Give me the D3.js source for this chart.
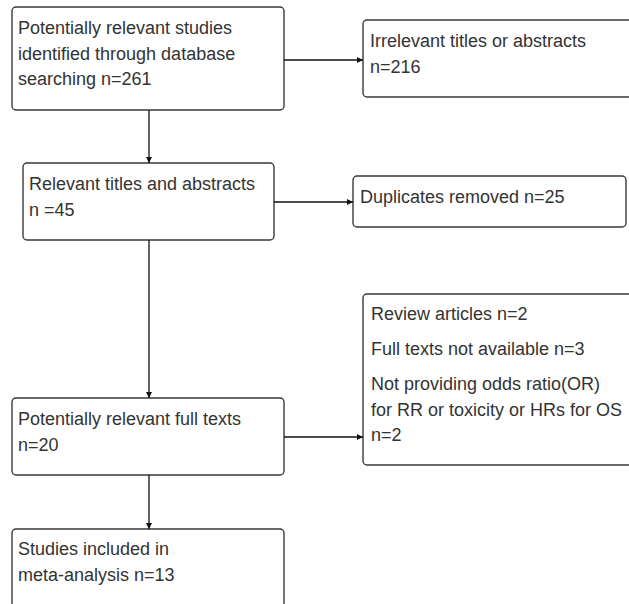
<!DOCTYPE html>
<html><head><meta charset="utf-8">
<script src="https://cdn.jsdelivr.net/npm/d3@7"></script>
<style>html,body{margin:0;padding:0;background:#fff;overflow:hidden}</style>
</head><body>
<svg id="c" width="629" height="604"></svg>
<script>
// ---- data ----
const stageLabels = ["Potentially relevant studies identified through database searching", "Relevant titles and abstracts", "Potentially relevant full texts", "Studies included in meta-analysis"];
const stageCounts = [261, 45, 20, 13];
const excludedLabels = [["Irrelevant titles or abstracts"], ["Duplicates removed"], ["Review articles", "Full texts not available", "Not providing odds ratio(OR) for RR or toxicity or HRs for OS"]];
const excludedCounts = [[216], [25], [2, 3, 2]];

// ---- layout (positions, not data) ----
const mainLines = [
  ["Potentially relevant studies", "identified through database", "searching n=" + stageCounts[0]],
  ["Relevant titles and abstracts", "n =" + stageCounts[1]],
  ["Potentially relevant full texts", "n=" + stageCounts[2]],
  ["Studies included in", "meta-analysis n=" + stageCounts[3]]
];
const mainBoxes = [
  {x0: 12, x1: 284, y0: 7, y1: 110, tx: 18, ty: 34},
  {x0: 23, x1: 274, y0: 163, y1: 240, tx: 29, ty: 190},
  {x0: 12, x1: 284, y0: 398, y1: 475, tx: 18, ty: 425},
  {x0: 12, x1: 284, y0: 529, y1: 640, tx: 18, ty: 555}
];
const sideParas = [
  [[excludedLabels[0][0], "n=" + excludedCounts[0][0]]],
  [[excludedLabels[1][0] + " n=" + excludedCounts[1][0]]],
  [[excludedLabels[2][0] + " n=" + excludedCounts[2][0]],
   [excludedLabels[2][1] + " n=" + excludedCounts[2][1]],
   ["Not providing odds ratio(OR)", "for RR or toxicity or HRs for OS", "n=" + excludedCounts[2][2]]]
];
const sideBoxes = [
  {x0: 363, x1: 640, y0: 20, y1: 97, tx: 370, ty: 47, ay: 60},
  {x0: 353, x1: 626, y0: 176, y1: 227, tx: 360, ty: 203, ay: 202},
  {x0: 363, x1: 640, y0: 294, y1: 465, tx: 371, ty: 320, ay: 437}
];
const lineH = 25.5, paraGap = 35;
const arrowX = 149;

const svg = d3.select("#c");
const ink = "#3a3a3a";
svg.append("defs").append("marker")
  .attr("id", "ah").attr("viewBox", "0 0 10 10").attr("refX", 10).attr("refY", 5)
  .attr("markerWidth", 8).attr("markerHeight", 6).attr("markerUnits", "userSpaceOnUse")
  .attr("orient", "auto")
  .append("path").attr("d", "M0,0L10,5L0,10Z").attr("fill", "#111");

const font = "'Liberation Sans', Arial, sans-serif";
const fs = 18;

function drawBox(b) {
  svg.append("rect").attr("x", b.x0).attr("y", b.y0)
    .attr("width", b.x1 - b.x0).attr("height", b.y1 - b.y0)
    .attr("rx", 4).attr("ry", 4)
    .attr("fill", "#fff").attr("stroke", ink).attr("stroke-width", 1.4);
}

mainBoxes.forEach((b, i) => {
  drawBox(b);
  const t = svg.append("text").attr("font-family", font).attr("font-size", fs).attr("fill", "#333");
  mainLines[i].forEach((ln, k) => {
    t.append("tspan").attr("x", b.tx).attr("y", b.ty + k * lineH).text(ln);
  });
});

sideBoxes.forEach((b, i) => {
  drawBox(b);
  const t = svg.append("text").attr("font-family", font).attr("font-size", fs).attr("fill", "#333");
  let y = b.ty;
  sideParas[i].forEach((para, p) => {
    if (p > 0) y += paraGap - lineH;
    para.forEach((ln) => {
      t.append("tspan").attr("x", b.tx).attr("y", y).text(ln);
      y += lineH;
    });
  });
});

// vertical arrows between main boxes
for (let i = 0; i < mainBoxes.length - 1; i++) {
  svg.append("line").attr("x1", arrowX).attr("x2", arrowX)
    .attr("y1", mainBoxes[i].y1).attr("y2", mainBoxes[i + 1].y0)
    .attr("stroke", "#111").attr("stroke-width", 1.3).attr("marker-end", "url(#ah)");
}
// horizontal arrows to side boxes
const fromMain = [0, 1, 2];
sideBoxes.forEach((b, i) => {
  svg.append("line").attr("x1", mainBoxes[fromMain[i]].x1).attr("x2", b.x0)
    .attr("y1", b.ay).attr("y2", b.ay)
    .attr("stroke", "#111").attr("stroke-width", 1.3).attr("marker-end", "url(#ah)");
});
</script>
</body></html>
